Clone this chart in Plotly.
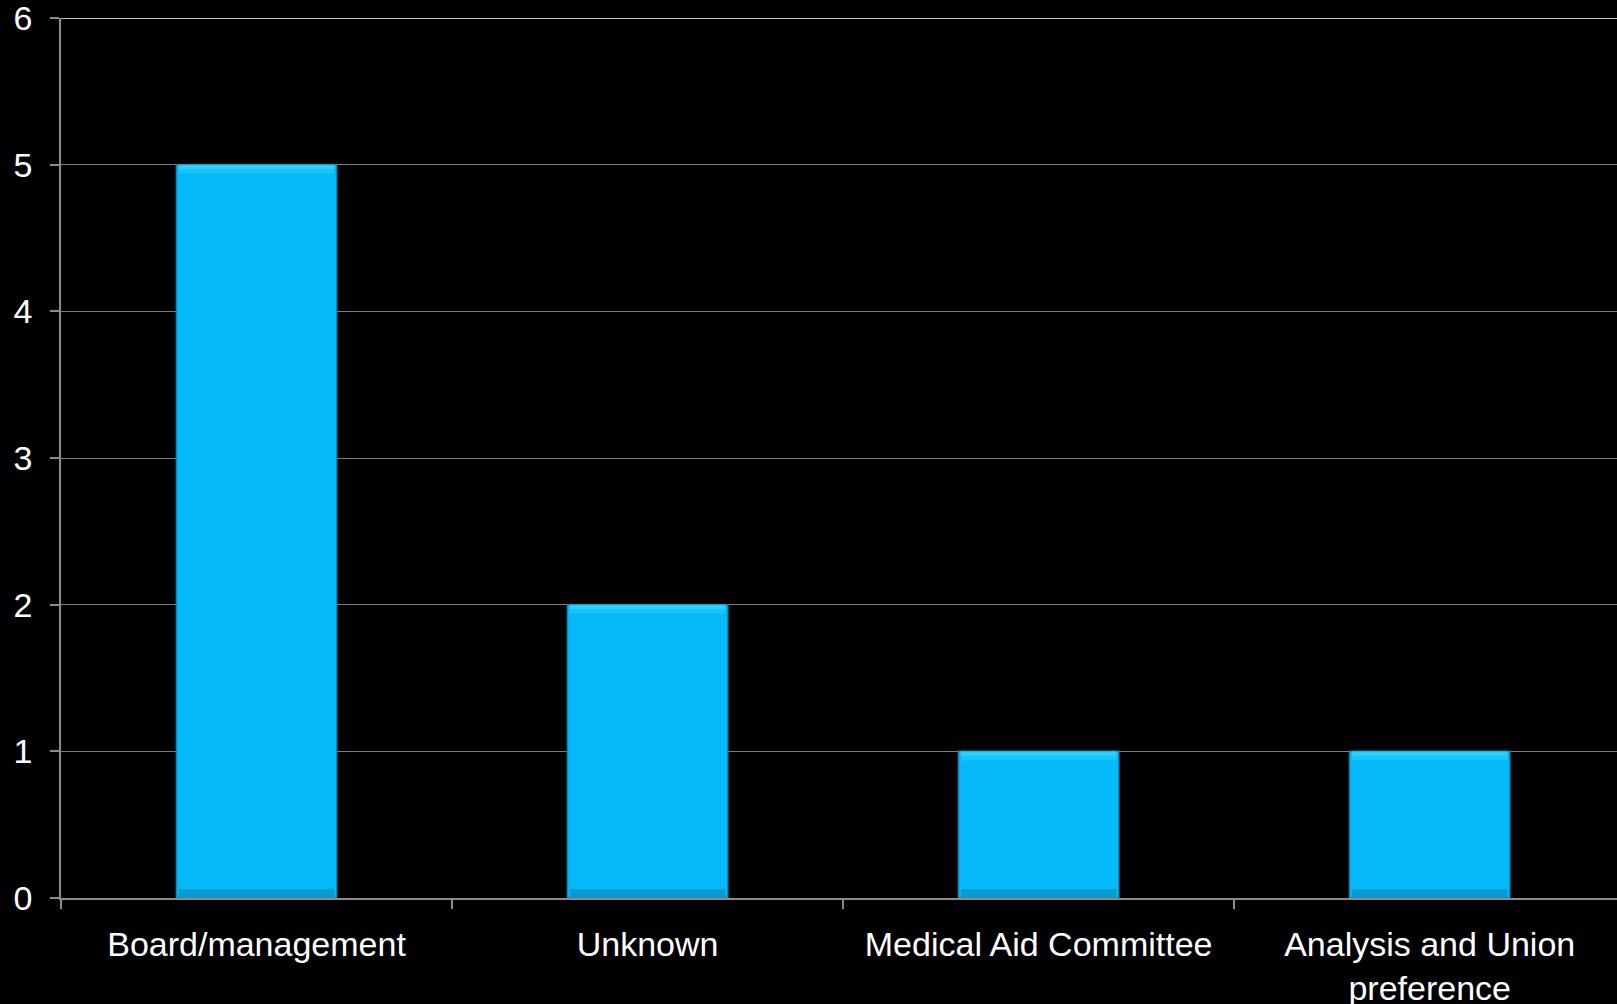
import plotly.graph_objects as go

# Data
categories = ["Board/management", "Unknown", "Medical Aid Committee", "Analysis and Union<br>preference"]
counts = [5, 2, 1, 1]
y_ticks = [0, 1, 2, 3, 4, 5, 6]

Y_MAX = 6
BAR_WIDTH = 0.41
BEVEL = 0.06

MAIN = "#06B9F8"
TOP_EDGE = "#3FDDFF"
BOTTOM_EDGE = "#0A94C8"
OUTLINE = "#0C86B4"

fig = go.Figure()

# Main bars
fig.add_trace(go.Bar(
    x=categories, y=counts, width=BAR_WIDTH,
    marker=dict(color=MAIN, line=dict(color=OUTLINE, width=1.5)),
    hoverinfo="x+y", showlegend=False,
))
# Bevel: lighter strips along the top of each bar (soft two-step highlight)
fig.add_trace(go.Bar(
    x=categories, y=[BEVEL] * len(counts), base=[v - BEVEL for v in counts],
    width=BAR_WIDTH - 0.012,
    marker=dict(color=TOP_EDGE, line=dict(width=0), opacity=0.35),
    hoverinfo="skip", showlegend=False,
))
fig.add_trace(go.Bar(
    x=categories, y=[BEVEL / 2] * len(counts), base=[v - BEVEL / 2 for v in counts],
    width=BAR_WIDTH - 0.012,
    marker=dict(color=TOP_EDGE, line=dict(width=0), opacity=0.5),
    hoverinfo="skip", showlegend=False,
))
# Bevel: darker strip along the bottom of each bar
fig.add_trace(go.Bar(
    x=categories, y=[BEVEL] * len(counts), base=[0] * len(counts),
    width=BAR_WIDTH - 0.012,
    marker=dict(color=BOTTOM_EDGE, line=dict(width=0), opacity=0.85),
    hoverinfo="skip", showlegend=False,
))

fig.update_layout(
    width=1617, height=1004,
    margin=dict(l=61, r=0, t=18, b=106),
    paper_bgcolor="black", plot_bgcolor="black",
    barmode="overlay",
    font=dict(family="Liberation Sans, Arial, sans-serif", size=34, color="white"),
    xaxis=dict(
        type="category",
        range=[-0.5, 3.479],
        showgrid=False,
        showline=True, linecolor="#8C8C8C", linewidth=2,
        ticks="outside", tickson="boundaries", ticklen=9, tickwidth=1.5, tickcolor="#8C8C8C",
        ticklabelstandoff=15,
        ticklabeloverflow="allow",
        automargin=False,
        zeroline=False,
    ),
    yaxis=dict(
        range=[0, Y_MAX],
        tickvals=y_ticks,
        showgrid=True, gridcolor="#7E7E7E", gridwidth=1.2,
        showline=True, linecolor="#8C8C8C", linewidth=1.5,
        ticks="outside", ticklen=9, tickwidth=1.5, tickcolor="#8C8C8C",
        ticklabelstandoff=11,
        ticklabeloverflow="allow",
        automargin=False,
        zeroline=False,
    ),
    shapes=[dict(
        type="line", xref="paper", yref="y",
        x0=0, x1=1, y0=Y_MAX, y1=Y_MAX,
        line=dict(color="white", width=1.5),
    )],
)

fig.write_html("out.html")
